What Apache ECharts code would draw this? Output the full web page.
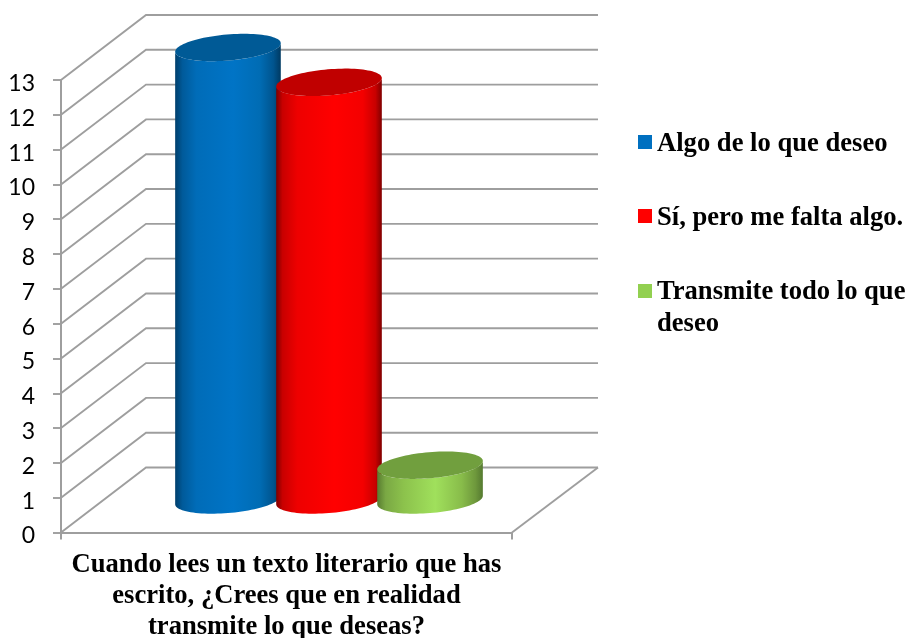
<!DOCTYPE html>
<html><head><meta charset="utf-8">
<style>html,body{margin:0;padding:0;background:#fff}#c{width:913px;height:638px}</style>
<script src="https://cdn.jsdelivr.net/npm/echarts@6/dist/echarts.min.js"></script>
</head><body><div id="c"></div>
<script>
const categories = ['Cuando lees un texto literario que has\nescrito, ¿Crees que en realidad\ntransmite lo que deseas?'];
const seriesNames = ['Algo de lo que deseo', 'Sí, pero me falta algo.', 'Transmite todo lo que deseo'];
const algoValues = [13];
const siValues = [12];
const transmiteValues = [1];
const valueTicks = [0,1,2,3,4,5,6,7,8,9,10,11,12,13];

const DEPTH_X = 85, DEPTH_Y = -65, LINE = '#9e9e9e';
const SERIF = '"Liberation Serif","Times New Roman",serif';

function grad(stops){
  return {type:'linear',x:0,y:0,x2:1,y2:0,colorStops:stops.map(s=>({offset:s[0],color:s[1]}))};
}
const styles = [
  {legend:'#0070c0', top:'#005a96', side:grad([[0,'#003f6c'],[0.07,'#005a9a'],[0.2,'#006cb8'],[0.55,'#0074c6'],[0.8,'#006cb4'],[0.93,'#00548e'],[1,'#003a62']])},
  {legend:'#ff0000', top:'#c00000', side:grad([[0,'#7c0000'],[0.06,'#c80000'],[0.2,'#ee0000'],[0.55,'#ff0000'],[0.82,'#f40000'],[0.94,'#c80000'],[1,'#800000']])},
  {legend:'#92d050', top:'#719f3e', side:grad([[0,'#587c30'],[0.08,'#7aa844'],[0.25,'#8cc24c'],[0.55,'#a0e05c'],[0.8,'#88bc4a'],[0.93,'#6e983c'],[1,'#557a30']])}
];

function ellipseArc(cx, cy, a, b, th, from, to, n){
  const pts = [];
  for (let i = 0; i <= n; i++){
    const t = from + (to - from) * i / n;
    const ex = a * Math.cos(t), ey = b * Math.sin(t);
    pts.push([cx + ex * Math.cos(th) + ey * Math.sin(th), cy - ex * Math.sin(th) + ey * Math.cos(th)]);
  }
  return pts;
}

function cylinder(idx){
  return function(params, api){
    const cs = params.coordSys;
    const spacing = cs.width * 0.224, a = cs.width * 0.1175, b = 13, th = 0.085;
    const v = api.value(1);
    const front = api.coord([0, v]), base = api.coord([0, 0]);
    const cx = front[0] + (idx - 1) * spacing + DEPTH_X / 2;
    const topY = front[1] + DEPTH_Y / 2, botY = base[1] + DEPTH_Y / 2;
    const t0 = Math.atan2(b * Math.sin(th), a * Math.cos(th));
    const lowerBot = ellipseArc(cx, botY, a, b, th, t0, t0 + Math.PI, 48);
    const lowerTop = ellipseArc(cx, topY, a, b, th, t0, t0 + Math.PI, 48).reverse();
    const side = lowerBot.concat(lowerTop);
    const cap = ellipseArc(cx, topY, a, b, th, 0, Math.PI * 2, 96);
    return {type:'group', children:[
      {type:'polygon', shape:{points:side}, style:{fill:styles[idx].side}},
      {type:'polygon', shape:{points:cap}, style:{fill:styles[idx].top}}
    ]};
  };
}

function frameItem(params, api){
  const cs = params.coordSys;
  const v = api.value(1);
  const y = api.coord([0, v])[1];
  const x0 = cs.x, x1 = x0 + DEPTH_X, x2 = cs.x + cs.width + DEPTH_X + 1;
  return {type:'group', children:[
    {type:'polyline', shape:{points:[[x0,y],[x1,y+DEPTH_Y],[x2,y+DEPTH_Y]]},
     style:{stroke:LINE, lineWidth:1.9, fill:null}},
    ...(v === 0 ? [{type:'line', shape:{x1:cs.x+cs.width,y1:y,x2:x2,y2:y+DEPTH_Y},
     style:{stroke:LINE, lineWidth:1.9}}] : [])
  ]};
}

const chart = echarts.init(document.getElementById('c'), null, {renderer:'canvas'});
const legendText = {fontFamily:SERIF, fontWeight:'bold', fontSize:26.6, color:'#000'};
const squareIcon = 'path://M0 0H14V14H0Z M0 18H14';
const legendBase = {orient:'vertical', padding:0, itemWidth:14, itemHeight:18, selectedMode:false, textStyle:legendText};
chart.setOption({
  animation:false,
  backgroundColor:'#fff',
  grid:{left:61, top:80, width:451, height:452.5, containLabel:false, outerBoundsMode:'none'},
  legend:[
    {...legendBase, left:638, top:130.5, data:[{name:seriesNames[0], icon:squareIcon}]},
    {...legendBase, left:638, top:204.5, data:[{name:seriesNames[1], icon:squareIcon}]},
    {...legendBase, left:638, top:276, itemHeight:48,
      data:[{name:seriesNames[2], icon:'path://M0 0H14V14H0Z M0 48H14'}],
      formatter:()=> 'Transmite todo lo que\ndeseo',
      textStyle:{...legendText, lineHeight:32}}
  ],
  xAxis:{type:'category', data:categories,
    axisLine:{lineStyle:{color:LINE,width:2}},
    axisTick:{show:true,length:7,lineStyle:{color:LINE,width:2}},
    axisLabel:{fontFamily:SERIF,fontWeight:'bold',fontSize:26.6,color:'#000',lineHeight:31,margin:17,align:'center',interval:0}},
  yAxis:{type:'value', min:0, max:13, interval:1,
    axisLine:{show:true,lineStyle:{color:LINE,width:2}},
    axisTick:{show:true,length:8,lineStyle:{color:LINE,width:1.9}},
    splitLine:{show:false},
    axisLabel:{fontFamily:'Lato',fontSize:23,color:'#000',margin:26,verticalAlign:'top',lineHeight:7}},
  series:[
    {type:'custom', name:'frame', renderItem:frameItem, silent:true, z:1,
      data:valueTicks.map(v=>[0,v]), encode:{x:0,y:1}},
    {type:'custom', name:seriesNames[0], renderItem:cylinder(0), z:2, itemStyle:{color:styles[0].legend},
      data:algoValues.map(v=>[0,v]), encode:{x:0,y:1}},
    {type:'custom', name:seriesNames[1], renderItem:cylinder(1), z:3, itemStyle:{color:styles[1].legend},
      data:siValues.map(v=>[0,v]), encode:{x:0,y:1}},
    {type:'custom', name:seriesNames[2], renderItem:cylinder(2), z:4, itemStyle:{color:styles[2].legend},
      data:transmiteValues.map(v=>[0,v]), encode:{x:0,y:1}}
  ]
});
</script></body></html>
